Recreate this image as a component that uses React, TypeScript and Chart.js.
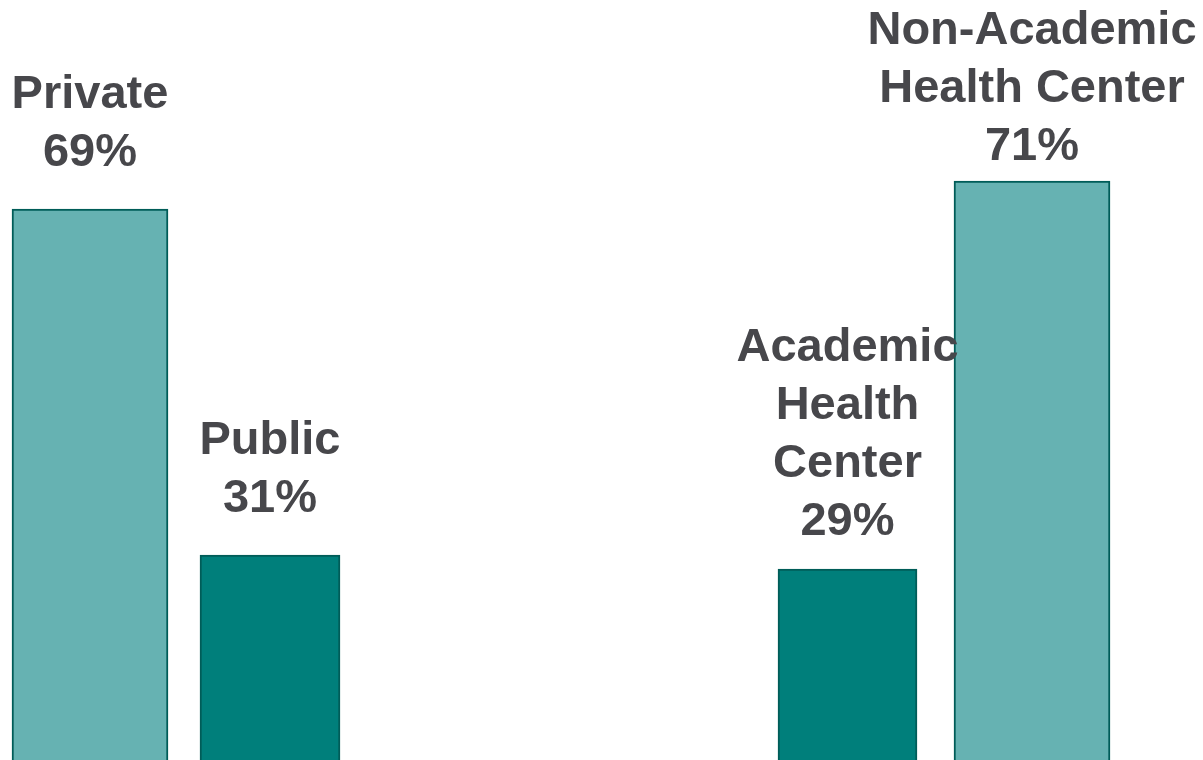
import React, { useEffect, useRef } from "react";
import { Chart, registerables } from "chart.js";

Chart.register(...registerables);

// ---- Data ----
const ownershipCategories = ["Private", "Public"];
const ownershipValues = [69, 31];
const ownershipNameLines = [["Private"], ["Public"]];

const affiliationCategories = ["Academic Health Center", "Non-Academic Health Center"];
const affiliationValues = [29, 71];
const affiliationNameLines = [["Academic", "Health", "Center"], ["Non-Academic", "Health Center"]];

// ---- Styles ----
const LIGHT = "#66b2b2";
const DARK = "#007f7b";
const BORDER = "#005c58";
const TEXT = "#47474b";
const FONT = "bold 47px 'Liberation Sans', Arial, sans-serif";
const LINE_HEIGHT = 58;

const ownershipStyle = {
  fills: [LIGHT, DARK],
  thickness: [156, 140],
  labelGap: [43, 43],
};
const affiliationStyle = {
  fills: [DARK, LIGHT],
  thickness: [139, 156],
  labelGap: [34, 21],
};

type PanelProps = {
  categories: string[];
  values: number[];
  nameLines: string[][];
  style: { fills: string[]; thickness: number[]; labelGap: number[] };
  left: number;
  width: number;
  padLeft: number;
  padRight: number;
  yMin: number;
  yMax: number;
};

const labelPlugin = {
  id: "barLabels",
  afterDatasetsDraw(chart: any) {
    const ctx = chart.ctx;
    ctx.save();
    ctx.font = FONT;
    ctx.fillStyle = TEXT;
    ctx.textAlign = "center";
    ctx.textBaseline = "alphabetic";
    chart.data.datasets.forEach((ds: any, i: number) => {
      const meta = chart.getDatasetMeta(i);
      const el = meta.data[i];
      if (!el) return;
      const lines: string[] = ds.labelLines;
      const n = lines.length;
      lines.forEach((line: string, k: number) => {
        const y = el.y - ds.labelGap - (n - 1 - k) * LINE_HEIGHT;
        ctx.fillText(line, el.x, y);
      });
    });
    ctx.restore();
  },
};

function Panel(p: PanelProps) {
  const ref = useRef<HTMLCanvasElement | null>(null);
  useEffect(() => {
    if (!ref.current) return;
    const datasets = p.values.map((v, i) => ({
      label: p.categories[i],
      data: p.values.map((_, j) => (j === i ? v : null)),
      backgroundColor: p.style.fills[i],
      borderColor: BORDER,
      borderWidth: 2,
      borderSkipped: false as const,
      barThickness: p.style.thickness[i],
      skipNull: true,
      grouped: true,
      labelLines: [...p.nameLines[i], `${v}%`],
      labelGap: p.style.labelGap[i],
    }));
    const chart = new Chart(ref.current, {
      type: "bar",
      data: { labels: p.categories, datasets: datasets as any },
      options: {
        animation: false,
        responsive: false,
        devicePixelRatio: 1,
        layout: { padding: { left: p.padLeft, right: p.padRight, top: 0, bottom: 0 } },
        scales: {
          x: { display: false, grid: { display: false } },
          y: { display: false, min: p.yMin, max: p.yMax, grid: { display: false } },
        },
        plugins: {
          legend: { display: false },
          tooltip: { enabled: false },
        },
      },
      plugins: [labelPlugin],
    });
    return () => chart.destroy();
  }, []);
  return (
    <canvas
      ref={ref}
      width={p.width}
      height={760}
      style={{ position: "absolute", left: p.left, top: 0, width: p.width, height: 760 }}
    />
  );
}

export default function App() {
  return (
    <div
      style={{
        position: "absolute",
        left: 0,
        top: 0,
        width: 1203,
        height: 760,
        background: "#ffffff",
        overflow: "hidden",
      }}
    >
      <Panel
        categories={ownershipCategories}
        values={ownershipValues}
        nameLines={ownershipNameLines}
        style={ownershipStyle}
        left={0}
        width={360}
        padLeft={0}
        padRight={0}
        yMin={8.5}
        yMax={91.97}
      />
      <Panel
        categories={affiliationCategories}
        values={affiliationValues}
        nameLines={affiliationNameLines}
        style={affiliationStyle}
        left={700}
        width={503}
        padLeft={55.25}
        padRight={78.75}
        yMin={8.32}
        yMax={90.59}
      />
    </div>
  );
}
